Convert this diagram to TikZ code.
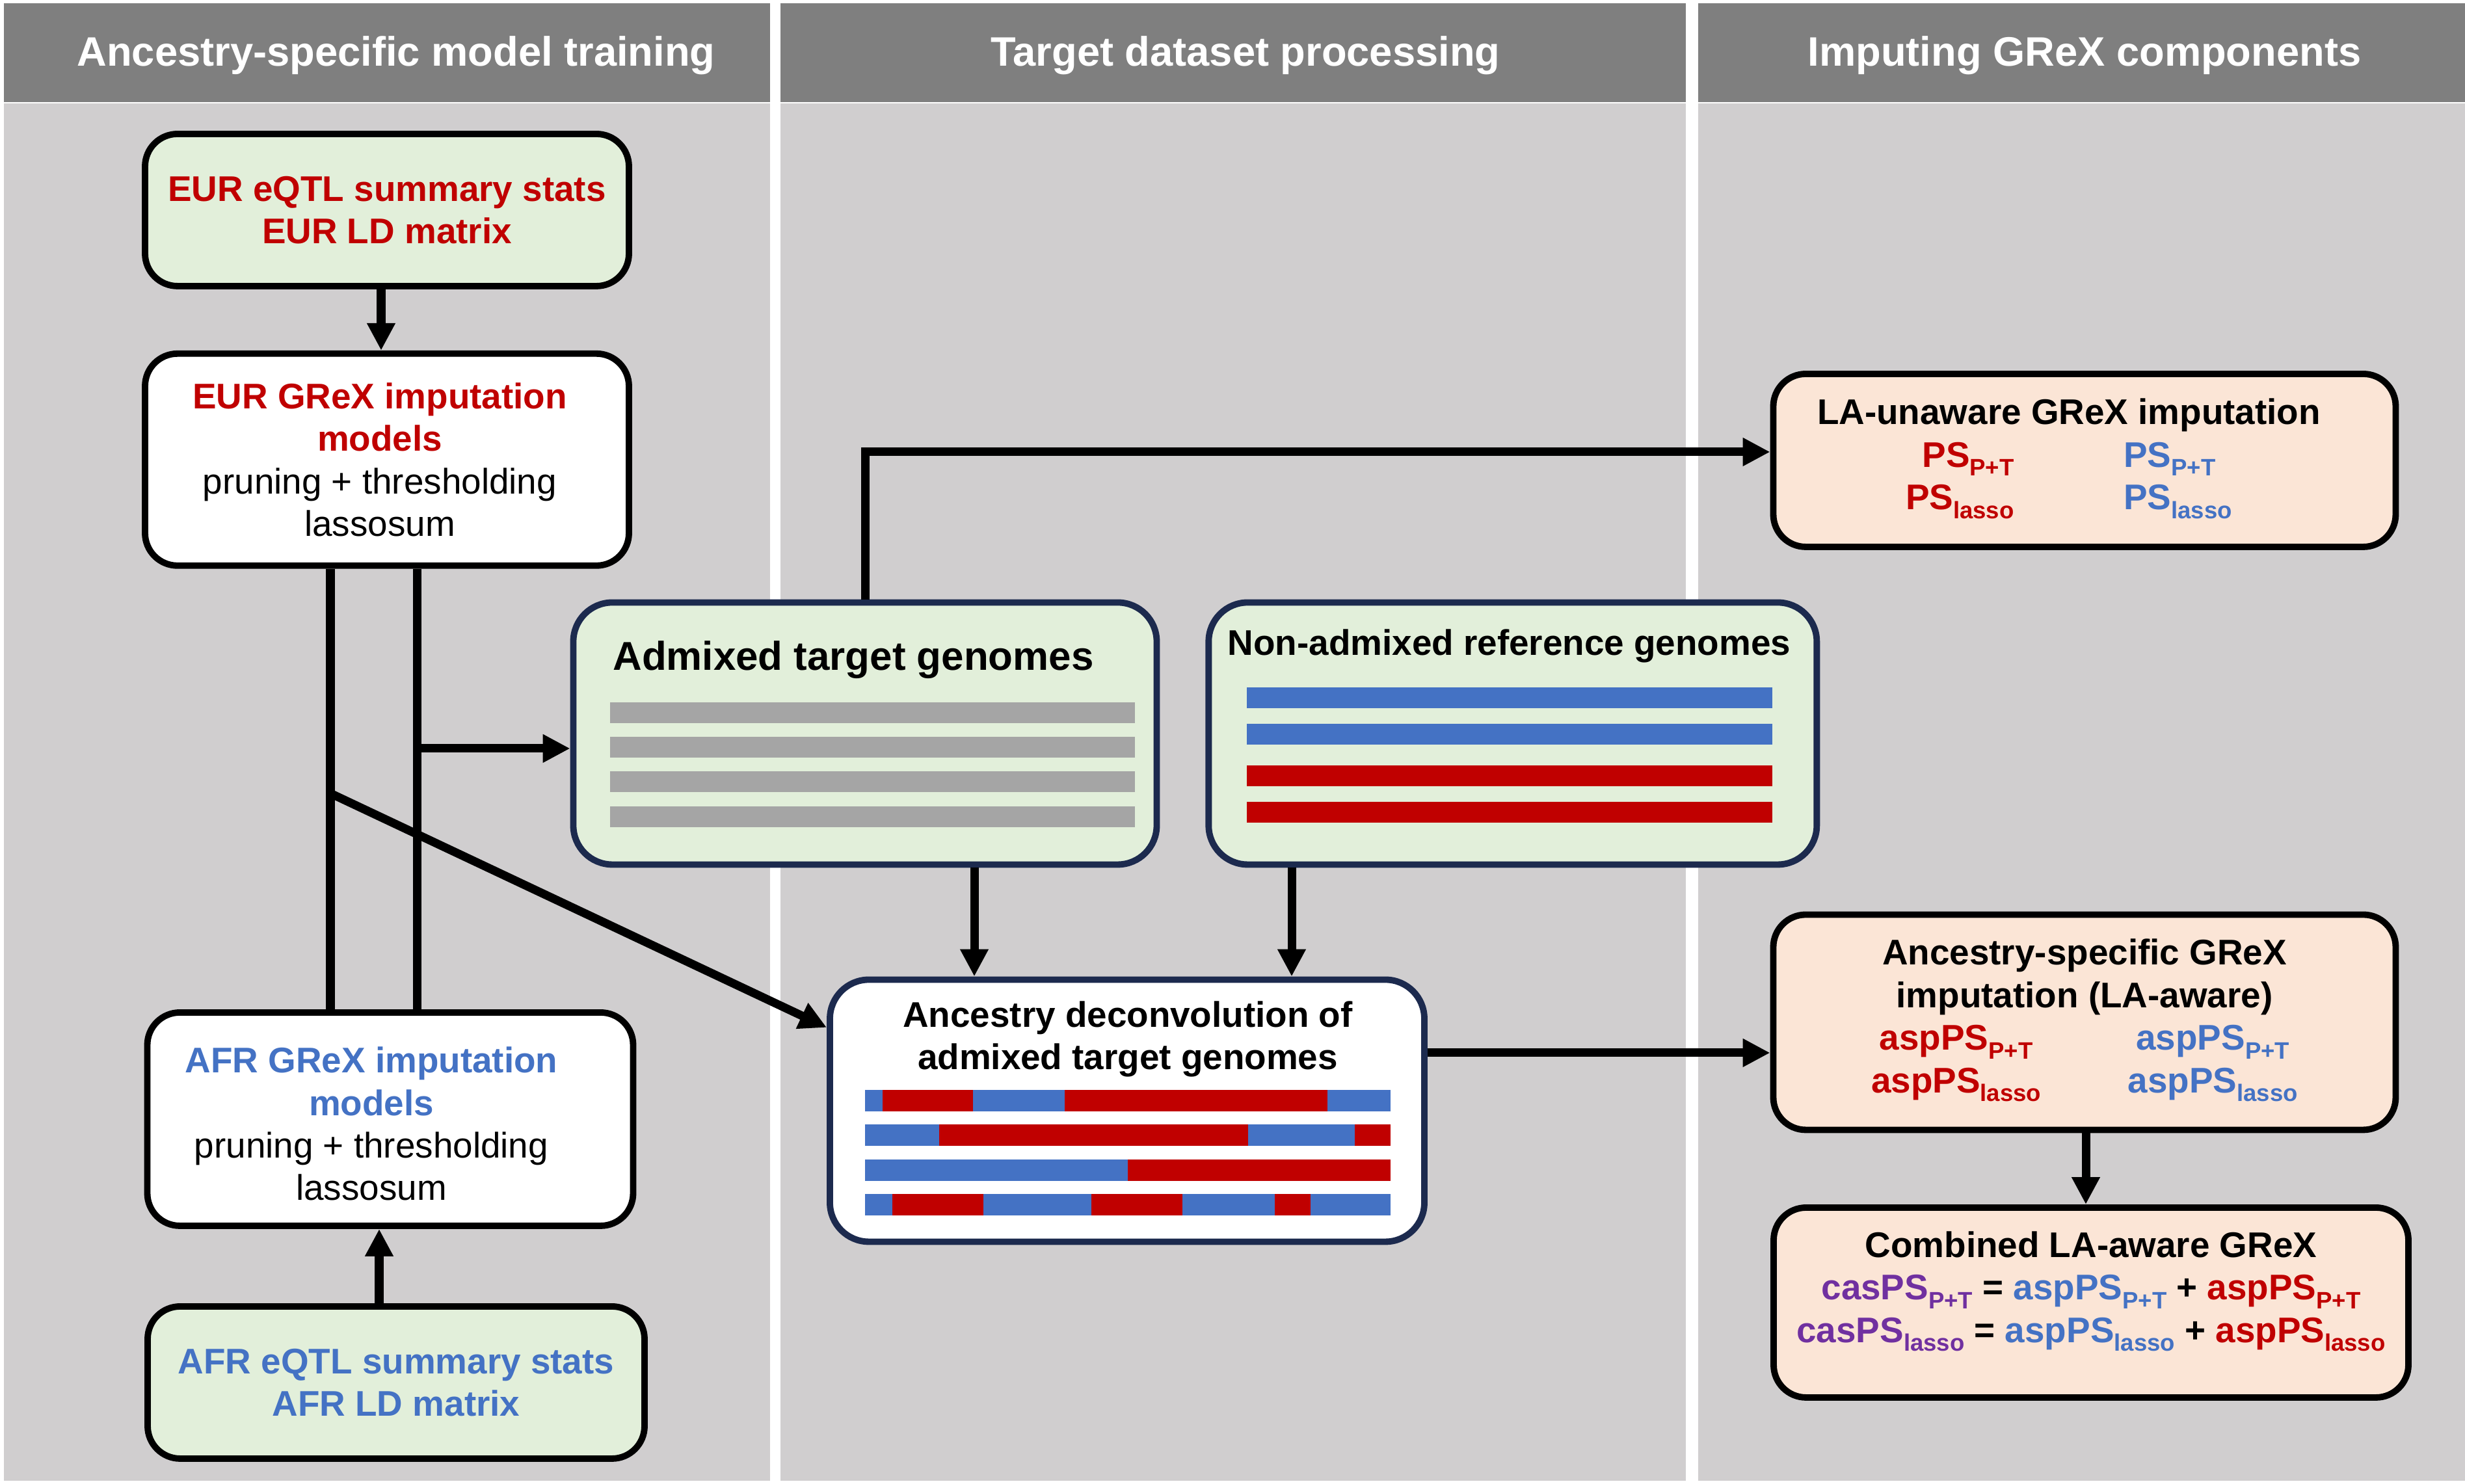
\documentclass[tikz,border=0pt]{standalone}
\usepackage{fontspec}
\setmainfont{Liberation Sans}
\usepackage{xcolor}
\usetikzlibrary{arrows.meta, positioning, calc}
\definecolor{eurred}{RGB}{192, 0, 0}
\definecolor{afrblue}{RGB}{68, 114, 196}
\definecolor{caspurple}{RGB}{112, 48, 160}
\definecolor{boxgreen}{RGB}{226, 239, 218}
\definecolor{boxpeach}{RGB}{251, 229, 214}
\definecolor{bargray}{RGB}{165, 165, 165}
\definecolor{colgray}{RGB}{208, 206, 207}
\definecolor{hdrgray}{RGB}{127, 127, 127}
\definecolor{boxnavy}{RGB}{28, 42, 78}
\newcommand{\lsub}[1]{\raisebox{-0.25em}{\fontsize{5.2}{6}\selectfont #1}}
\newcommand{\padr}[1]{\hspace{#1}\mbox{}}

\begin{document}
\begin{tikzpicture}[
  colbg/.style={fill=colgray},
  colhead/.style={fill=hdrgray},
  headtext/.style={text=white, font=\fontsize{9}{11}\selectfont\bfseries},
  box/.style={rectangle, rounded corners=0.25cm, draw=black, line width=1.4pt,
              inner sep=0pt, align=center, font=\fontsize{7.8}{9.3}\selectfont\bfseries},
  databox/.style={box, fill=boxgreen},
  modelbox/.style={box, fill=white},
  genobox/.style={box, fill=boxgreen, draw=boxnavy, rounded corners=0.3cm},
  resultbox/.style={box, fill=boxpeach},
  title/.style={align=center, inner sep=0pt, font=\fontsize{7.8}{9.3}\selectfont\bfseries},
  arrow/.style={-{Triangle[length=0.21cm, width=0.205cm]}, line width=1.85pt},
  link/.style={line width=1.85pt},
]
  \useasboundingbox (0,0) rectangle (18.95,11.41);
  \fill[white] (0,0) rectangle (18.95,11.41);

  % columns
  \foreach \xa/\xb in {0.03/5.92, 6.0/12.96, 13.055/18.95} {
    \fill[colhead] (\xa,10.625) rectangle (\xb,11.385);
    \fill[colbg] (\xa,0.025) rectangle (\xb,10.615);
  }
  \node[headtext] (headtrain) at (3.045,10.985) {Ancestry-specific model training};
  \node[headtext] (headtarget) at (9.575,10.985) {Target dataset processing};
  \node[headtext] (headimpute) at (16.025,10.985) {Imputing GReX components};

  % model training
  \node[databox, text=eurred, minimum width=3.72cm, minimum height=1.17cm] (EUReqtl) at (2.975,9.795)
    {EUR eQTL summary stats\\EUR LD matrix};
  \node[modelbox, text=eurred, minimum width=3.72cm, minimum height=1.63cm, below=0.47cm of EUReqtl] (EURgrex)
    {EUR GReX imputation\padr{0.11cm}\\models\padr{0.11cm}\\
     \textcolor{black}{\mdseries pruning + thresholding}\padr{0.11cm}\\\textcolor{black}{\mdseries lassosum}\padr{0.11cm}};
  \node[modelbox, text=afrblue, minimum width=3.735cm, minimum height=1.64cm] (AFRgrex) at (3.0,2.805)
    {\rule{0pt}{0.27cm}AFR GReX imputation\padr{0.29cm}\\models\padr{0.29cm}\\
     \textcolor{black}{\mdseries pruning + thresholding}\padr{0.29cm}\\\textcolor{black}{\mdseries lassosum}\padr{0.29cm}};
  \node[databox, text=afrblue, minimum width=3.82cm, minimum height=1.17cm] (AFReqtl) at (3.045,0.78)
    {AFR eQTL summary stats\\AFR LD matrix};

  % target dataset
  \node[genobox, minimum width=4.485cm, minimum height=2.015cm] (admixed) at (6.65,5.77) {};
  \node[genobox, minimum width=4.675cm, minimum height=2.015cm, right=0.35cm of admixed] (nonadmix) {};
  \node[genobox, fill=white, minimum width=4.57cm, minimum height=2.015cm] (deconv) at (8.665,2.87) {};
  \node[title, font=\fontsize{8.8}{10}\selectfont\bfseries] (admixedtitle) at (6.56,6.335) {Admixed target genomes};
  \node[title] (nonadmixtitle) at (11.6025,6.445) {Non-admixed reference genomes};
  \node[title] (deconvtitle) at (8.67,3.42) {Ancestry deconvolution of\\admixed target genomes};

  \foreach \y in {5.93, 5.665, 5.3975, 5.1275}
    \fill[bargray] (4.69,\y-0.08) rectangle (8.725,\y+0.08);
  \foreach \y/\c in {6.045/afrblue, 5.765/afrblue, 5.4425/eurred, 5.1625/eurred}
    \fill[\c] (9.585,\y-0.08) rectangle (13.625,\y+0.08);
  \foreach \y in {2.9475, 2.6825, 2.4125, 2.145}
    \fill[afrblue] (6.65,\y-0.0825) rectangle (10.69,\y+0.0825);
  \foreach \y/\a/\b in {2.9475/6.785/7.48, 2.9475/8.185/10.205, 2.6825/7.22/9.595, 2.6825/10.415/10.69,
                        2.4125/8.67/10.69, 2.145/6.86/7.56, 2.145/8.39/9.09, 2.145/9.8/10.075}
    \fill[eurred] (\a,\y-0.0825) rectangle (\b,\y+0.0825);

  % imputing components
  \node[resultbox, minimum width=4.785cm, minimum height=1.33cm] (unaware) at (16.025,7.87)
    {LA-unaware GReX imputation\padr{0.24cm}\\
     \begin{tabular}[t]{@{}r@{\hspace{24pt}}l@{}}
       \textcolor{eurred}{PS\lsub{P+T}} & \textcolor{afrblue}{PS\lsub{P+T}}\\
       \textcolor{eurred}{PS\lsub{lasso}} & \textcolor{afrblue}{PS\lsub{lasso}}
     \end{tabular}\padr{0.24cm}};
  \node[resultbox, minimum width=4.785cm, minimum height=1.655cm] (aspec) at (16.025,3.55)
    {Ancestry-specific GReX\\imputation (LA-aware)\\
     \begin{tabular}[t]{@{}c@{\hspace{19pt}}c@{}}
       \textcolor{eurred}{aspPS\lsub{P+T}} & \textcolor{afrblue}{aspPS\lsub{P+T}}\\
       \textcolor{eurred}{aspPS\lsub{lasso}} & \textcolor{afrblue}{aspPS\lsub{lasso}}
     \end{tabular}};
  \node[resultbox, minimum width=4.88cm, minimum height=1.46cm] (combined) at (16.075,1.395)
    {Combined LA-aware GReX\\
     \textcolor{caspurple}{casPS\lsub{P+T}} = \textcolor{afrblue}{aspPS\lsub{P+T}} + \textcolor{eurred}{aspPS\lsub{P+T}}\\
     \textcolor{caspurple}{casPS\lsub{lasso}} = \textcolor{afrblue}{aspPS\lsub{lasso}} + \textcolor{eurred}{aspPS\lsub{lasso}}\rule[-0.24cm]{0pt}{0pt}};

  % connectors
  \coordinate (eurx) at (2.93,0);
  \coordinate (afrx) at (2.915,0);
  \coordinate (lineP) at (2.54,0);
  \coordinate (lineL) at (3.205,0);
  \coordinate (toadm) at (3.205,5.655);
  \coordinate (todec) at (2.54,5.31);
  \coordinate (decin) at (0,3.51);
  \coordinate (a2d) at (7.49,0);
  \coordinate (n2d) at (9.93,0);
  \coordinate (toun) at (0,7.935);
  \coordinate (toasp) at (0,3.315);
  \coordinate (a2c) at (16.035,0);

  \draw[arrow] (EUReqtl.south -| eurx) -- (EURgrex.north -| eurx);
  \draw[arrow] (AFReqtl.north -| afrx) -- (AFRgrex.south -| afrx);
  \draw[link] (EURgrex.south -| lineP) -- (AFRgrex.north -| lineP);
  \draw[link] (EURgrex.south -| lineL) -- (AFRgrex.north -| lineL);
  \draw[arrow] (toadm) -- (toadm -| admixed.west);
  \draw[arrow] (todec) -- (deconv.west |- decin);
  \draw[arrow] (admixed.south -| a2d) -- (deconv.north -| a2d);
  \draw[arrow] (nonadmix.south -| n2d) -- (deconv.north -| n2d);
  \draw[arrow] (admixed.north) |- (unaware.west |- toun);
  \draw[arrow] (deconv.east |- toasp) -- (aspec.west |- toasp);
  \draw[arrow] (aspec.south -| a2c) -- (combined.north -| a2c);
\end{tikzpicture}
\end{document}
